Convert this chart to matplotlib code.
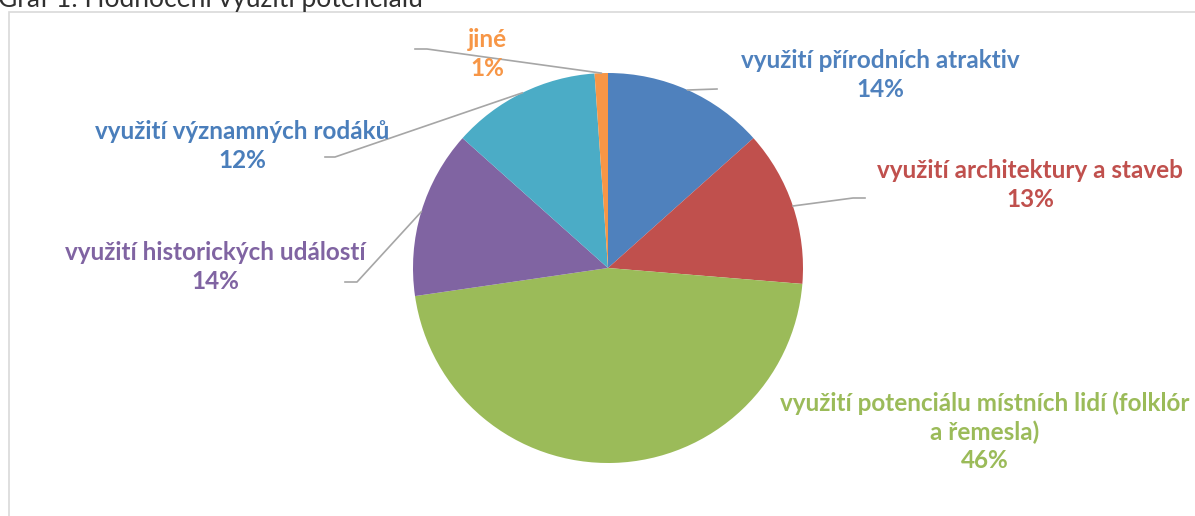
import numpy as np
import matplotlib.pyplot as plt
from matplotlib.patches import Rectangle

# slices, clockwise from 12 o'clock
labels = ['využití přírodních atraktiv', 'využití architektury a staveb',
          'využití potenciálu místních lidí (folklór\na řemesla)',
          'využití historických událostí', 'využití významných rodáků', 'jiné']
shares = [13.4, 12.9, 46.4, 13.9, 12.3, 1.1]
pct_text = ['14%', '13%', '46%', '14%', '12%', '1%']
colors = ['#4F81BD', '#C0504D', '#9BBB59', '#8064A2', '#4BACC6', '#F79646']
label_colors = ['#4F81BD', '#C0504D', '#9BBB59', '#8064A2', '#4A7EBB', '#F79646']

W, H = 1195, 516
fig = plt.figure(figsize=(W / 100, H / 100), dpi=100)
ax = fig.add_axes([0, 0, 1, 1])

def up(y):
    # pixel row -> axis y
    return H - y

# chart frame (runs off the right and bottom of the picture)
ax.add_patch(Rectangle((9, -20), W + 50, up(12) + 20, fill=False,
                       edgecolor='#D9D9D9', linewidth=1.2))

# title, mostly cut off at the top
ax.text(-2, up(7), 'Graf 1: Hodnocení využití potenciálu', fontsize=19,
        family='Lato', color='#303030', ha='left', va='baseline')

cx, cy, r = 608, up(268), 195
wedges, _ = ax.pie(shares, colors=colors, startangle=90, counterclock=False,
                   center=(cx, cy), radius=r, frame=True,
                   wedgeprops=dict(linewidth=0))
ax.set_xlim(0, W)
ax.set_ylim(0, H)
ax.set_aspect('equal')
ax.axis('off')

# label centres and leader paths (pixel rows), layout only
label_pos = [(880, 75), (1030, 185), (985, 432), (215, 267), (242, 146), (487, 54)]
leaders = [[(717, 89)],
           [(853, 198), (865, 198)],
           None,
           [(357, 282), (345, 282)],
           [(335, 157), (325, 157)],
           [(427, 49), (415, 49)]]

for w, lab, pct, col, pos, path in zip(wedges, labels, pct_text, label_colors,
                                        label_pos, leaders):
    ax.text(pos[0], up(pos[1]), lab + '\n' + pct, ha='center', va='center',
            fontsize=17.5, fontweight='bold', family='Lato', color=col,
            linespacing=1.28)
    if path is None:
        continue
    mid = np.deg2rad((w.theta1 + w.theta2) / 2)
    xs = [cx + r * np.cos(mid)] + [p[0] for p in path]
    ys = [cy + r * np.sin(mid)] + [up(p[1]) for p in path]
    ax.plot(xs, ys, color='#A6A6A6', linewidth=1.2)

fig.savefig('out.png', dpi=100)
